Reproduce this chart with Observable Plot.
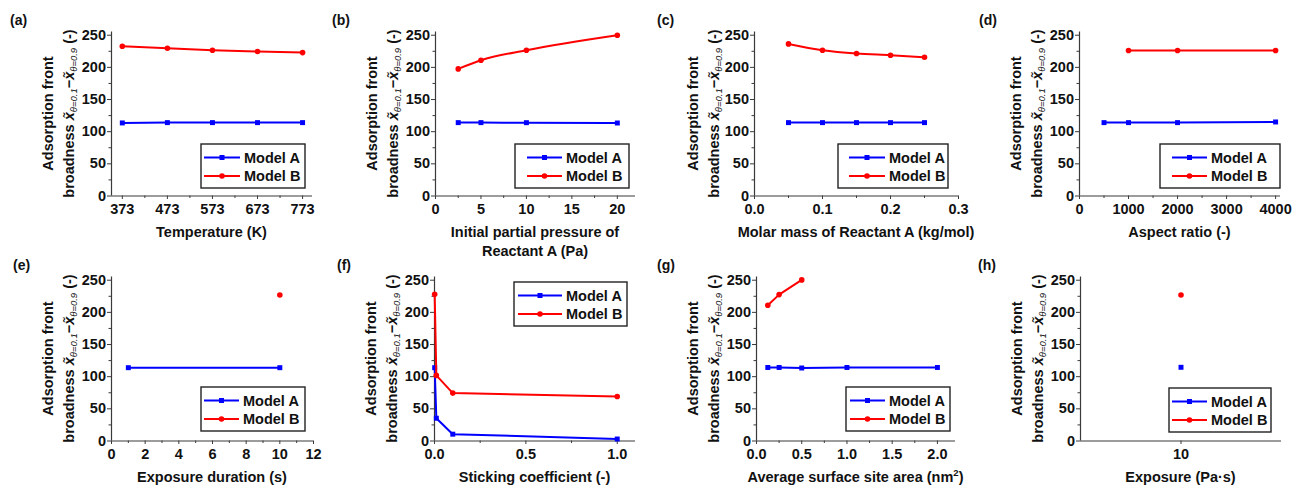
<!DOCTYPE html>
<html><head><meta charset="utf-8">
<script src="https://cdn.jsdelivr.net/npm/d3@7"></script>
<script src="https://cdn.jsdelivr.net/npm/@observablehq/plot@0.6"></script>
<style>
body{margin:0;background:#fff;}
#chart{position:relative;width:1293px;height:487px;overflow:hidden;background:#fff;}
.panel{position:absolute;}
</style></head><body><div id="chart"></div>
<script>
// ---------------- data ----------------
const seriesNames = ["Model A", "Model B"];
const yTickValues = [0, 50, 100, 150, 200, 250];
const yMinorValues = [25, 75, 125, 175, 225];

// (a) Temperature
const tempX = [373, 473, 573, 673, 773];
const tempA = [113.6, 114.1, 114.1, 114.1, 114.1];
const tempB = [232.9, 229.8, 226.7, 224.6, 223.0];
const tempTicks = [373, 473, 573, 673, 773];
const tempMinor = [423, 523, 623, 723];

// (b) Initial partial pressure
const pressX = [2.5, 5, 10, 20];
const pressA = [114.1, 114.1, 114.0, 113.5];
const pressB = [197.6, 211.0, 226.7, 250.0];
const pressTicks = [0, 5, 10, 15, 20];
const pressMinor = [2.5, 7.5, 12.5, 17.5];

// (c) Molar mass
const molarX = [0.05, 0.10, 0.15, 0.20, 0.25];
const molarA = [114.1, 114.1, 114.1, 114.1, 114.1];
const molarB = [236.5, 226.7, 221.5, 218.9, 215.8];
const molarTicks = [0, 0.1, 0.2, 0.3];
const molarMinor = [0.05, 0.15, 0.25];

// (d) Aspect ratio
const aspectAX = [500, 1000, 2000, 4000];
const aspectA = [114.1, 114.1, 114.1, 115.1];
const aspectBX = [1000, 2000, 4000];
const aspectB = [226.3, 226.3, 226.3];
const aspectTicks = [0, 1000, 2000, 3000, 4000];
const aspectMinor = [500, 1500, 2500, 3500];

// (e) Exposure duration
const durAX = [1, 10];
const durA = [114.0, 114.0];
const durBX = [10];
const durB = [227.0];
const durTicks = [0, 2, 4, 6, 8, 10, 12];
const durMinor = [1, 3, 5, 7, 9, 11];

// (f) Sticking coefficient
const stickX = [0.001, 0.01, 0.1, 1.0];
const stickA = [114.0, 35.4, 10.6, 3.1];
const stickB = [228.0, 102.0, 74.5, 69.3];
const stickTicks = [0, 0.5, 1.0];
const stickMinor = [0.25, 0.75];

// (g) Average surface site area
const siteAX = [0.125, 0.25, 0.5, 1.0, 2.0];
const siteA = [114.3, 114.3, 113.5, 114.3, 114.3];
const siteBX = [0.125, 0.25, 0.5];
const siteB = [211.0, 227.6, 250.5];
const siteTicks = [0, 0.5, 1.0, 1.5, 2.0];
const siteMinor = [0.25, 0.75, 1.25, 1.75];

// (h) Exposure
const expoX = [10];
const expoA = [114.6];
const expoB = [227.0];
const expoTicks = [10];

// ---------------- drawing ----------------
const FONT = '"Liberation Sans", Arial, Helvetica, sans-serif';
const BLUE = "#0000ff", RED = "#ff0000", AXIS = "#3a3a3a";
const H = 242, MT = 31.5, MB = 46.5;
const zeroY = H - MB;

function rows(xs, ys) { return xs.map((x, i) => ({x, y: ys[i]})); }

function panel(c) {
  const ml = c.axisL - c.left, mr = c.left + c.width - c.axisR;
  const A = rows(c.ax, c.ay), B = rows(c.bx, c.by);
  const curve = c.curve || "linear";
  const marks = [
    Plot.axisY({ticks: yMinorValues, tickSize: 2.5, tickFormat: () => "", label: null, stroke: AXIS}),
    Plot.axisY({ticks: yTickValues, tickSize: 4, tickPadding: 1.5, label: null, stroke: AXIS}),
  ];
  if (c.xMinor && c.xMinor.length) marks.push(Plot.axisX({ticks: c.xMinor, tickSize: 2.5, tickFormat: () => "", label: null, stroke: AXIS}));
  marks.push(
    Plot.axisX({ticks: c.xTicks, tickSize: 3.5, tickPadding: 4, tickFormat: c.xFormat, label: null, stroke: AXIS}),
    Plot.ruleY([0], {stroke: AXIS, strokeWidth: 1.2}),
    Plot.ruleX([c.xDomain[0]], {stroke: AXIS, strokeWidth: 1.2}),
    Plot.line(A, {x: "x", y: "y", stroke: BLUE, strokeWidth: 2, curve}),
    Plot.dot(A, {x: "x", y: "y", symbol: "square", r: 2.8, fill: BLUE}),
    Plot.line(B, {x: "x", y: "y", stroke: RED, strokeWidth: 2, curve}),
    Plot.dot(B, {x: "x", y: "y", symbol: "circle", r: 2.8, fill: RED})
  );
  const svg = Plot.plot({
    width: c.width, height: H,
    marginTop: MT, marginBottom: MB, marginLeft: ml, marginRight: mr,
    style: {background: "none", overflow: "visible", fontFamily: FONT, fontSize: "14.5px", fontWeight: "bold", color: "#111"},
    x: {domain: c.xDomain, label: null},
    y: {domain: [0, 255], label: null},
    marks
  });
  const s = d3.select(svg);
  const txt = (x, y) => s.append("text").attr("x", x).attr("y", y)
    .attr("font-family", FONT).attr("font-weight", "bold").attr("fill", "#111").attr("text-anchor", "start");

  // panel letter
  txt(c.letterX, 24.5).attr("font-size", 14).text(c.letter);

  // y-axis title (two lines)
  const yMid = (MT + zeroY) / 2;
  const o1 = c.yOff1 || -58, o2 = c.yOff2 || -37;
  s.append("text").attr("transform", `translate(${ml + o1},${yMid}) rotate(-90)`)
    .attr("text-anchor", "middle").attr("font-family", FONT).attr("font-weight", "bold")
    .attr("font-size", 14.5).attr("fill", "#111").text("Adsorption front");
  const t2 = s.append("text").attr("transform", `translate(${ml + o2},${yMid}) rotate(-90)`)
    .attr("text-anchor", "middle").attr("font-family", FONT).attr("font-weight", "bold")
    .attr("font-size", 14.5).attr("fill", "#111");
  t2.append("tspan").text("broadness ");
  t2.append("tspan").attr("font-style", "italic").text("x\u0303");
  t2.append("tspan").attr("font-size", 9.5).attr("font-weight", "normal").attr("font-style", "italic").attr("dy", 3).text("\u03b8=0.1");
  t2.append("tspan").attr("dy", -3).text("\u2212");
  t2.append("tspan").attr("font-style", "italic").text("x\u0303");
  t2.append("tspan").attr("font-size", 9.5).attr("font-weight", "normal").attr("font-style", "italic").attr("dy", 3).text("\u03b8=0.9");
  t2.append("tspan").attr("dy", -3).text(" (-)");

  // x-axis title
  const xMid = ml + (c.width - ml - mr) / 2;
  c.xTitle.forEach((line, i) => {
    const t = txt(xMid, zeroY + 41 + i * 19.5).attr("font-size", 14.5).attr("text-anchor", "middle");
    if (Array.isArray(line)) {
      t.append("tspan").text(line[0]);
      t.append("tspan").attr("font-size", 9.5).attr("dy", -6).text(line[1]);
      t.append("tspan").attr("dy", 6).text(line[2]);
    } else t.text(line);
  });

  // legend
  const [bx0, bx1, by0, lx0, lx1] = c.legend;
  const g = s.append("g").attr("transform", `translate(${-c.left},${-c.top})`);
  g.append("rect").attr("x", bx0).attr("y", by0).attr("width", bx1 - bx0).attr("height", 44)
    .attr("fill", "#fff").attr("stroke", "#222").attr("stroke-width", 1.4);
  [[BLUE, "square", 13.5], [RED, "circle", 32]].forEach(([col, sym, dy], i) => {
    const yy = by0 + dy, xm = (lx0 + lx1) / 2;
    g.append("line").attr("x1", lx0).attr("x2", lx1).attr("y1", yy).attr("y2", yy)
      .attr("stroke", col).attr("stroke-width", 2);
    if (sym === "square") g.append("rect").attr("x", xm - 2.5).attr("y", yy - 2.5).attr("width", 5).attr("height", 5).attr("fill", col);
    else g.append("circle").attr("cx", xm).attr("cy", yy).attr("r", 2.8).attr("fill", col);
    g.append("text").attr("x", lx1 + 4).attr("y", yy + 5.2).attr("font-family", FONT)
      .attr("text-anchor", "start")
      .attr("font-weight", "bold").attr("font-size", 14.5).attr("fill", "#111").text(seriesNames[i]);
  });

  const div = document.createElement("div");
  div.className = "panel";
  div.style.left = c.left + "px";
  div.style.top = c.top + "px";
  div.appendChild(svg);
  document.getElementById("chart").appendChild(div);
}

const fInt = d3.format("d"), f1 = d3.format(".1f");

const panels = [
  {letter: "(a)", left: 0, top: 0, width: 323, letterX: 10, axisL: 111, axisR: 312,
   xDomain: [349, 795], xTicks: tempTicks, xMinor: tempMinor, xFormat: fInt,
   ax: tempX, ay: tempA, bx: tempX, by: tempB, xTitle: ["Temperature (K)"],
   legend: [201, 305, 144, 204, 240]},
  {letter: "(b)", left: 323, top: 0, width: 323, letterX: 9, axisL: 435, axisR: 635,
   xDomain: [0, 22], xTicks: pressTicks, xMinor: pressMinor, xFormat: fInt, curve: "monotone-x",
   ax: pressX, ay: pressA, bx: pressX, by: pressB, xTitle: ["Initial partial pressure of", "Reactant A (Pa)"],
   legend: [515, 629, 144, 527, 562]},
  {letter: "(c)", left: 646, top: 0, width: 323, letterX: 11, axisL: 754, axisR: 958, yOff1: -56, yOff2: -35,
   xDomain: [0, 0.3], xTicks: molarTicks, xMinor: molarMinor, xFormat: f1, curve: "monotone-x",
   ax: molarX, ay: molarA, bx: molarX, by: molarB, xTitle: ["Molar mass of Reactant A (kg/mol)"],
   legend: [838, 948, 144, 849, 885]},
  {letter: "(d)", left: 969, top: 0, width: 324, letterX: 10, axisL: 1079, axisR: 1280,
   xDomain: [0, 4100], xTicks: aspectTicks, xMinor: aspectMinor, xFormat: fInt,
   ax: aspectAX, ay: aspectA, bx: aspectBX, by: aspectB, xTitle: ["Aspect ratio (-)"],
   legend: [1160, 1280, 144, 1172, 1207]},
  {letter: "(e)", left: 0, top: 245, width: 323, letterX: 13, axisL: 111, axisR: 313,
   xDomain: [0, 12], xTicks: durTicks, xMinor: durMinor, xFormat: fInt,
   ax: durAX, ay: durA, bx: durBX, by: durB, xTitle: ["Exposure duration (s)"],
   legend: [201, 305, 387, 204, 239]},
  {letter: "(f)", left: 323, top: 245, width: 323, letterX: 14, axisL: 434, axisR: 635,
   xDomain: [0, 1.1], xTicks: stickTicks, xMinor: stickMinor, xFormat: f1,
   ax: stickX, ay: stickA, bx: stickX, by: stickB, xTitle: ["Sticking coefficient (-)"],
   legend: [514, 627, 282, 518, 562]},
  {letter: "(g)", left: 646, top: 245, width: 323, letterX: 11, axisL: 756, axisR: 955,
   xDomain: [0, 2.2], xTicks: siteTicks, xMinor: siteMinor, xFormat: f1,
   ax: siteAX, ay: siteA, bx: siteBX, by: siteB, xTitle: [["Average surface site area (nm", "2", ")"]],
   legend: [846, 950, 387, 850, 885]},
  {letter: "(h)", left: 969, top: 245, width: 324, letterX: 9, axisL: 1080, axisR: 1281,
   xDomain: [5, 15], xTicks: expoTicks, xMinor: [], xFormat: fInt,
   ax: expoX, ay: expoA, bx: expoX, by: expoB, xTitle: ["Exposure (Pa\u00b7s)"],
   legend: [1169, 1271, 388, 1172, 1207]}
];
panels.forEach(panel);
</script></body></html>
